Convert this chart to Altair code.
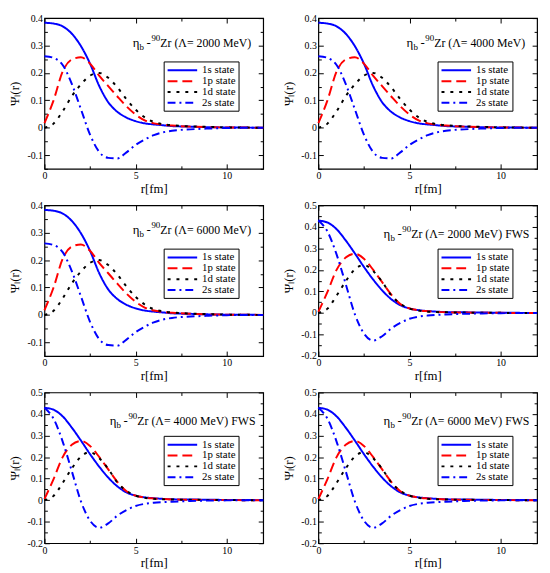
import altair as alt
import pandas as pd

FONT = "Liberation Serif, Times New Roman, serif"

R = [0, 0.5, 1, 1.5, 2, 2.5, 3, 3.5, 4, 4.5, 5, 5.5, 6, 6.5, 7, 8, 9, 10, 11, 12]

# panels "Λ = 2000 / 4000 / 6000 MeV"
A_1S = [0.383, 0.380, 0.370, 0.343, 0.298, 0.234, 0.153, 0.093, 0.058, 0.037, 0.024, 0.016, 0.012, 0.009, 0.006, 0.004, 0.002, 0.001, 0.0005, 0.0]
A_1P = [0.017, 0.100, 0.205, 0.249, 0.257, 0.234, 0.190, 0.152, 0.114, 0.078, 0.048, 0.027, 0.016, 0.011, 0.008, 0.004, 0.002, 0.001, 0.0005, 0.0]
A_1D = [0.0, 0.015, 0.060, 0.115, 0.158, 0.190, 0.200, 0.182, 0.147, 0.104, 0.066, 0.038, 0.021, 0.013, 0.009, 0.005, 0.003, 0.001, 0.0005, 0.0]
A_2S = [0.261, 0.255, 0.229, 0.160, 0.068, -0.025, -0.088, -0.110, -0.112, -0.090, -0.063, -0.043, -0.027, -0.017, -0.011, -0.006, -0.003, -0.001, 0.0, 0.0]

# panels "... FWS"
B_1S = [0.429, 0.420, 0.389, 0.337, 0.277, 0.214, 0.156, 0.105, 0.064, 0.036, 0.021, 0.013, 0.009, 0.006, 0.004, 0.003, 0.002, 0.001, 0.0005, 0.0]
B_1P = [0.005, 0.098, 0.200, 0.257, 0.275, 0.252, 0.201, 0.143, 0.085, 0.041, 0.021, 0.012, 0.008, 0.005, 0.003, 0.002, 0.001, 0.0005, 0.0, 0.0]
B_1D = [0.0, 0.020, 0.080, 0.147, 0.202, 0.223, 0.195, 0.145, 0.082, 0.043, 0.021, 0.011, 0.006, 0.004, 0.003, 0.002, 0.001, 0.0005, 0.0, 0.0]
B_2S = [0.429, 0.378, 0.272, 0.135, -0.005, -0.095, -0.128, -0.108, -0.072, -0.046, -0.027, -0.017, -0.012, -0.009, -0.007, -0.004, -0.002, -0.001, 0.0, 0.0]

STATES = ["1s state", "1p state", "1d state", "2s state"]
COLORS = ["#0000ff", "#ff0000", "#000000", "#0000ff"]
DASHES = [[1, 0], [10, 5], [3, 6], [8, 4, 2, 4]]
WIDTHS = [2, 2, 3, 2]

X_MAJOR = [0, 5, 10]
X_MINOR = [2.5, 7.5]
A_YDOM = [-0.15, 0.4]
A_YMAJ = [-0.1, 0, 0.1, 0.2, 0.3, 0.4]
A_YMIN = [-0.15, -0.05, 0.05, 0.15, 0.25, 0.35]
B_YDOM = [-0.2, 0.5]
B_YMAJ = [-0.2, -0.1, 0, 0.1, 0.2, 0.3, 0.4, 0.5]
B_YMIN = [-0.15, -0.05, 0.05, 0.15, 0.25, 0.35, 0.45]

ENERGIES = ["2000", "4000", "6000", "2000", "4000", "6000"]
FWS = [False, False, False, True, True, True]

W, H = 222, 153


def frame(series):
    rows = []
    for st, vals in zip(STATES, series):
        for r, v in zip(R, vals):
            rows.append({"r": r, "psi": v, "state": st})
    return pd.DataFrame(rows)


def axis(orient, values, major, labels=False, title=None):
    size = 5 if major else 3
    kw = dict(orient=orient, values=values, tickSize=size, offset=-size,
              domain=False, grid=False, labels=labels, ticks=True,
              tickColor="black", tickWidth=1, title=title, minExtent=0)
    if labels:
        kw.update(labelFont=FONT, labelFontSize=10, labelColor="black",
                  labelPadding=2, labelFlush=False, labelOverlap=False,
                  labelExpr="'' + datum.value")
    if title is not None:
        kw.update(titleFont=FONT, titleFontSize=13, titleFontWeight="normal",
                  titleColor="black", titlePadding=2 if orient == "bottom" else 5)
    return alt.Axis(**kw)


def text_piece(text, x, y, size):
    return alt.Chart(pd.DataFrame({"t": [text]})).mark_text(
        align="left", baseline="alphabetic", font=FONT, fontSize=size, color="black"
    ).encode(x=alt.value(x), y=alt.value(y), text="t:N")


def panel(energy, fws):
    series = [B_1S, B_1P, B_1D, B_2S] if fws else [A_1S, A_1P, A_1D, A_2S]
    ydom, ymaj, ymin = (B_YDOM, B_YMAJ, B_YMIN) if fws else (A_YDOM, A_YMAJ, A_YMIN)
    df = frame(series)
    xs = alt.Scale(domain=[0, 12], nice=False, zero=False)
    ys = alt.Scale(domain=ydom, nice=False, zero=False)
    leg = alt.Legend(title=None, orient="none", legendX=round(124 * W / 228),
                     legendY=round(47 * H / 162), symbolType="M-1,0H5",
                     symbolSize=100, symbolStrokeWidth=2.2, labelFont=FONT,
                     labelFontSize=11, labelColor="black", fillColor="white",
                     strokeColor="black", padding=3, rowPadding=0, zindex=1,
                     labelOffset=24)
    lines = alt.Chart(df).mark_line(interpolate="monotone").encode(
        x=alt.X("r:Q", scale=xs, axis=axis("bottom", X_MAJOR, True, True, "r[fm]")),
        y=alt.Y("psi:Q", scale=ys, axis=axis("left", ymaj, True, True, "Ψₗ(r)")),
        color=alt.Color("state:N", scale=alt.Scale(domain=STATES, range=COLORS), legend=leg),
        strokeDash=alt.StrokeDash("state:N", scale=alt.Scale(domain=STATES, range=DASHES), legend=leg),
        strokeWidth=alt.StrokeWidth("state:N", scale=alt.Scale(domain=STATES, range=WIDTHS), legend=None),
    )

    def ghost(xa, ya):
        return alt.Chart(df).mark_point(opacity=0).encode(
            x=alt.X("r:Q", scale=xs, axis=xa), y=alt.Y("psi:Q", scale=ys, axis=ya))

    g1 = ghost(axis("top", X_MAJOR, True), axis("right", ymaj, True))
    g2 = ghost(axis("bottom", X_MINOR, False), axis("left", ymin, False))
    g3 = ghost(axis("top", X_MINOR, False), axis("right", ymin, False))

    x0 = (68 if fws else 92) * W / 228
    y0 = (35 if fws else 31) * H / 162
    main = "Zr (Λ= " + energy + " MeV)" + (" FWS" if fws else "")
    texts = [
        text_piece("η", x0, y0, 13),
        text_piece("b", x0 + 7, y0 + 3, 9),
        text_piece("-", x0 + 14, y0, 13),
        text_piece("90", x0 + 19, y0 - 6, 9),
        text_piece(main, x0 + 28, y0, 12),
    ]
    return alt.layer(lines, g1, g2, g3, *texts).resolve_axis(
        x="independent", y="independent").properties(width=W, height=H)


P = [panel(e, f) for e, f in zip(ENERGIES, FWS)]
RES = dict(color="independent", strokeDash="independent", strokeWidth="independent")
rows = [alt.hconcat(P[i], P[i + 1], spacing=14).resolve_scale(**RES) for i in (0, 2, 4)]
chart = alt.vconcat(*rows, spacing=3).resolve_scale(**RES).properties(
    padding=0, background="white"
).configure_view(stroke="black", strokeWidth=1.2)

chart.save("out.html", embed_options={"renderer": "svg", "actions": False})
